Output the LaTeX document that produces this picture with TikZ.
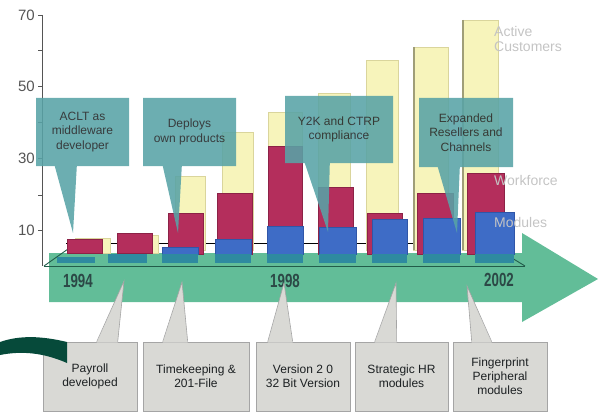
\documentclass[tikz,border=0pt]{standalone}
\usepackage{fontspec}
\setmainfont{Liberation Sans}
\usetikzlibrary{positioning}

\definecolor{arrowgreen}{RGB}{98,189,152}
\definecolor{floorgreen}{RGB}{34,92,74}
\definecolor{custyellow}{RGB}{247,244,187}
\definecolor{custedge}{RGB}{218,213,156}
\definecolor{custdark}{RGB}{160,158,120}
\definecolor{workred}{RGB}{180,46,92}
\definecolor{workdark}{RGB}{140,34,70}
\definecolor{modblue}{RGB}{62,108,198}
\definecolor{moddark}{RGB}{48,86,168}
\definecolor{modteal}{RGB}{46,138,160}
\definecolor{noteteal}{RGB}{88,163,166}
\definecolor{notegray}{RGB}{217,217,213}
\definecolor{noteline}{RGB}{165,165,165}
\definecolor{notetext}{RGB}{28,32,34}
\definecolor{yeartext}{RGB}{44,72,70}
\definecolor{swoosh}{RGB}{6,74,58}
\definecolor{axisgray}{RGB}{85,85,85}
\definecolor{legendgray}{RGB}{196,196,196}

\begin{document}
\begin{tikzpicture}[x=1pt,y=-1pt,
    axisline/.style={draw=axisgray, line width=0.8pt},
    axislabel/.style={text=axisgray, font=\fontsize{15}{15}\selectfont, anchor=east, inner sep=0pt},
    custbar/.style={fill=custyellow, draw=custedge, line width=0.5pt},
    workbar/.style={fill=workred, draw=workdark, line width=0.9pt},
    modbar/.style={fill=modblue, draw=moddark, line width=0.7pt},
    modbase/.style={fill=modteal},
    topnote/.style={fill=noteteal, inner sep=0pt, align=center, text=notetext,
        font=\fontsize{12}{14.5}\selectfont},
    botnote/.style={fill=notegray, draw=noteline, line width=0.6pt, inner sep=0pt,
        align=center, text=notetext, minimum height=69pt, font=\fontsize{12}{14}\selectfont},
    year/.style={text=yeartext, font=\fontsize{19}{19}\selectfont\bfseries, xscale=0.7, inner sep=0pt},
    legend/.style={text=legendgray, font=\fontsize{14}{15}\selectfont, anchor=west, align=left, inner sep=0pt}]

\useasboundingbox (0,0) rectangle (601,414);

% timeline arrow
\fill[arrowgreen] (49,253) -- (522,253) -- (522,233) -- (598,279) -- (522,322) -- (522,302) -- (49,302) -- cycle;

% axis
\draw[axisline] (42,15) -- (42,266);
\draw[axisline] (38,15) -- (42,15);
\draw[axisline] (38,50) -- (42,50);
\draw[axisline] (38,86) -- (42,86);
\draw[axisline] (38,122) -- (42,122);
\draw[axisline] (38,158) -- (42,158);
\draw[axisline] (38,195) -- (42,195);
\draw[axisline] (38,230) -- (42,230);

\node[axislabel] (l70) at (35,15) {70};
\node[axislabel] (l50) at (35,86) {50};
\node[axislabel] (l30) at (35,158) {30};
\node[axislabel] (l10) at (35,230) {10};

% floor
\draw[black, line width=0.7pt] (66,243) -- (445,243);
\draw[floorgreen, line width=0.9pt] (44,266) -- (525,266);
\draw[floorgreen, line width=0.9pt] (44,266) -- (68,249);
\draw[floorgreen, line width=0.9pt] (525,266) -- (507,255);

% active customers
\fill[custbar] (75,238) rectangle (110,253);
\fill[custbar] (123,235) rectangle (158,253);
\filldraw[custbar] (175,176) rectangle (205,250);
\filldraw[custbar] (222,132) rectangle (253,250);
\filldraw[custbar] (268,112) rectangle (302,250);
\filldraw[custbar] (318,93) rectangle (350,250);
\filldraw[custbar] (366,60) rectangle (398,250);
\filldraw[custbar] (413,47) rectangle (448,250);
\filldraw[custbar] (462,20) rectangle (498,250);
\draw[custdark, line width=1.5pt] (414,47) -- (414,250);
\draw[custdark, line width=1.5pt] (463,20) -- (463,250);

% workforce
\filldraw[workbar] (67,239) rectangle (102,253);
\filldraw[workbar] (117,233) rectangle (152,253);
\filldraw[workbar] (168,213) rectangle (203,254);
\filldraw[workbar] (217,193) rectangle (252,254);
\filldraw[workbar] (268,146) rectangle (302,254);
\filldraw[workbar] (318,187) rectangle (353,254);
\filldraw[workbar] (367,213) rectangle (402,254);
\filldraw[workbar] (417,193) rectangle (453,254);
\filldraw[workbar] (467,173) rectangle (504,254);

% modules
\fill[modbase] (57,257) rectangle (95,263);
\fill[modbase] (108,254) rectangle (147,263);
\filldraw[modbar] (162,247) rectangle (198,254);
\filldraw[modbar] (215,239) rectangle (251,254);
\filldraw[modbar] (267,226) rectangle (303,254);
\filldraw[modbar] (319,227) rectangle (356,254);
\filldraw[modbar] (372,219) rectangle (407,254);
\filldraw[modbar] (423,218) rectangle (460,254);
\filldraw[modbar] (475,212) rectangle (514,254);
\fill[modbase] (162,254) rectangle (198,263);
\fill[modbase] (215,254) rectangle (251,263);
\fill[modbase] (267,254) rectangle (303,263);
\fill[modbase] (319,254) rectangle (356,263);
\fill[modbase] (372,254) rectangle (407,263);
\fill[modbase] (423,254) rectangle (460,263);
\fill[modbase] (475,254) rectangle (514,263);

% series names
\node[legend] (customers) at (494,38.5) {Active\\Customers};
\node[legend] (workforce) at (494,180) {Workforce};
\node[legend] (modules) at (494,222) {Modules};

% years
\node[year] (y1994) at (78,281) {1994};
\node[year] (y1998) at (285,281) {1998};
\node[year] (y2002) at (499,280) {2002};

% milestones above
\coordinate (aclt-tip) at (73,233);
\coordinate (deploys-tip) at (178,233);
\coordinate (y2k-tip) at (328,232);
\coordinate (expanded-tip) at (457,233);

\begin{scope}[transparency group, opacity=0.88]
\node[topnote, minimum width=93pt, minimum height=68pt] (aclt) at (82.5,132) {ACLT as\\middleware\\developer};
\fill[noteteal] ([xshift=19pt]aclt.south west) -- (aclt-tip) -- ([xshift=41pt]aclt.south west) -- cycle;
\end{scope}
\begin{scope}[transparency group, opacity=0.88]
\node[topnote, minimum width=93pt, minimum height=68pt] (deploys) at (189.5,132) {Deploys\\own products};
\fill[noteteal] ([xshift=20pt]deploys.south west) -- (deploys-tip) -- ([xshift=39pt]deploys.south west) -- cycle;
\end{scope}
\begin{scope}[transparency group, opacity=0.88]
\node[topnote, minimum width=108pt, minimum height=67pt] (y2k) at (339,129.5) {Y2K and CTRP\\compliance};
\fill[noteteal] ([xshift=20pt]y2k.south west) -- (y2k-tip) -- ([xshift=45pt]y2k.south west) -- cycle;
\end{scope}
\begin{scope}[transparency group, opacity=0.88]
\node[topnote, minimum width=94pt, minimum height=69pt] (expanded) at (466,132.5) {Expanded\\Resellers and\\Channels};
\fill[noteteal] ([xshift=19pt]expanded.south west) -- (expanded-tip) -- ([xshift=41pt]expanded.south west) -- cycle;
\end{scope}

% milestones below
\coordinate (payroll-tip) at (124,281);
\coordinate (timekeeping-tip) at (182,282);
\coordinate (version-tip) at (284,283);
\coordinate (strategic-tip) at (396,283);
\coordinate (fingerprint-tip) at (467,286);

\node[botnote, minimum width=94pt] (payroll) at (90,376.5) {Payroll\\developed};
\fill[notegray] ([xshift=54pt,yshift=-1pt]payroll.north west) -- (payroll-tip) -- ([xshift=75pt,yshift=-1pt]payroll.north west) -- cycle;
\draw[noteline, line width=0.6pt] ([xshift=54pt]payroll.north west) -- (payroll-tip) -- ([xshift=75pt]payroll.north west);

\node[botnote, minimum width=106pt] (timekeeping) at (196,376.5) {Timekeeping \&\\201-File};
\fill[notegray] ([xshift=20pt,yshift=-1pt]timekeeping.north west) -- (timekeeping-tip) -- ([xshift=45pt,yshift=-1pt]timekeeping.north west) -- cycle;
\draw[noteline, line width=0.6pt] ([xshift=20pt]timekeeping.north west) -- (timekeeping-tip) -- ([xshift=45pt]timekeeping.north west);

\node[botnote, minimum width=94pt] (version) at (303,376.5) {Version 2 0\\32 Bit Version};
\fill[notegray] ([xshift=12pt,yshift=-1pt]version.north west) -- (version-tip) -- ([xshift=37pt,yshift=-1pt]version.north west) -- cycle;
\draw[noteline, line width=0.6pt] ([xshift=12pt]version.north west) -- (version-tip) -- ([xshift=37pt]version.north west);

\node[botnote, minimum width=93pt] (strategic) at (401.5,376.5) {Strategic HR\\modules};
\fill[notegray] ([xshift=20pt,yshift=-1pt]strategic.north west) -- (strategic-tip) -- ([xshift=42pt,yshift=-1pt]strategic.north west) -- cycle;
\draw[noteline, line width=0.6pt] ([xshift=20pt]strategic.north west) -- (strategic-tip) -- ([xshift=42pt]strategic.north west);

\node[botnote, minimum width=94pt] (fingerprint) at (500,376.5) {Fingerprint\\Peripheral\\modules};
\fill[notegray] ([xshift=19pt,yshift=-1pt]fingerprint.north west) -- (fingerprint-tip) -- ([xshift=39pt,yshift=-1pt]fingerprint.north west) -- cycle;
\draw[noteline, line width=0.6pt] ([xshift=19pt]fingerprint.north west) -- (fingerprint-tip) -- ([xshift=39pt]fingerprint.north west);

% swoosh
\fill[swoosh] (0,342) .. controls (20,335) and (42,336) .. (67,342) -- (67,363)
    .. controls (42,352) and (20,351) .. (0,355) -- cycle;

\end{tikzpicture}
\end{document}
